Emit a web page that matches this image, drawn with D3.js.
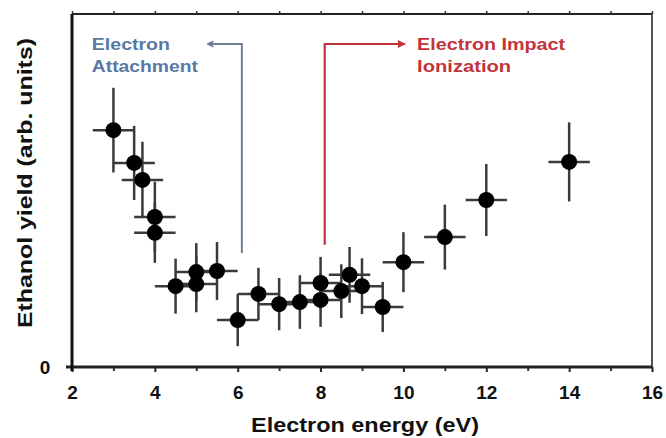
<!DOCTYPE html>
<html>
<head>
<meta charset="utf-8">
<script src="https://cdn.jsdelivr.net/npm/d3@7"></script>
<style>
  body { margin: 0; background: #fff; }
  svg { display: block; font-family: "Liberation Sans", Arial, sans-serif; font-weight: bold; }
</style>
</head>
<body>
<svg id="chart"></svg>
<script>
// electron energy (eV), yield (arb. units) and error bars
const energy = [3.0, 3.5, 3.7, 4.0, 4.0, 4.5, 5.0, 5.0, 5.5, 6.0, 6.5, 7.0, 7.5, 8.0, 8.0, 8.5, 8.7, 9.0, 9.5, 10, 11, 12, 14];
const yieldVal = [0.671, 0.578, 0.530, 0.425, 0.380, 0.229, 0.269, 0.235, 0.272, 0.133, 0.207, 0.178, 0.184, 0.238, 0.190, 0.215, 0.261, 0.229, 0.170, 0.297, 0.368, 0.473, 0.581];
const yErr = [0.12, 0.105, 0.108, 0.10, 0.085, 0.078, 0.082, 0.08, 0.082, 0.074, 0.074, 0.074, 0.076, 0.074, 0.076, 0.076, 0.079, 0.079, 0.071, 0.085, 0.092, 0.102, 0.112];
const xErr = [0.5, 0.5, 0.5, 0.5, 0.5, 0.5, 0.5, 0.5, 0.5, 0.5, 0.5, 0.5, 0.5, 0.5, 0.5, 0.5, 0.5, 0.5, 0.5, 0.5, 0.5, 0.5, 0.5];

const xTicks = [2, 4, 6, 8, 10, 12, 14, 16];
const xMinor = [3, 5, 7, 9, 11, 13, 15];

const width = 666, height = 438;
const margin = {top: 14, right: 14, bottom: 71, left: 72};
const innerW = width - margin.left - margin.right;
const innerH = height - margin.top - margin.bottom;

const svg = d3.select('#chart')
    .attr('width', width)
    .attr('height', height);

const chart = svg.append('g')
    .attr('transform', `translate(${margin.left}, ${margin.top})`);

const x = d3.scaleLinear().domain([2, 16]).range([0, innerW]);
const y = d3.scaleLinear().domain([0, 1]).range([innerH, 0]);

const points = energy.map((e, i) => ({x: e, y: yieldVal[i], ex: xErr[i], ey: yErr[i]}));

// frame: top and right
chart.append('line')
    .attr('x1', 0).attr('x2', innerW).attr('y1', 0).attr('y2', 0)
    .attr('stroke', '#222').attr('stroke-width', 2);
chart.append('line')
    .attr('x1', innerW).attr('x2', innerW).attr('y1', 0).attr('y2', innerH)
    .attr('stroke', '#555').attr('stroke-width', 2);

// top ticks
const topAxis = chart.append('g')
    .call(d3.axisTop(x).tickValues(d3.range(2, 17, 1)).tickSize(3).tickFormat(''));
topAxis.select('.domain').remove();
topAxis.selectAll('line').attr('stroke', '#333').attr('stroke-width', 1.5);

// annotations
const blue = '#5a78a6', blueLine = '#6f7f95', red = '#c4333b';

const defs = svg.append('defs');
defs.append('marker')
    .attr('id', 'arrBlue').attr('viewBox', '0 0 10 10')
    .attr('refX', 9).attr('refY', 5)
    .attr('markerWidth', 7).attr('markerHeight', 7)
    .attr('markerUnits', 'userSpaceOnUse')
    .attr('orient', 'auto')
    .append('path').attr('d', 'M1,1 L9,5 L1,9')
    .attr('fill', 'none').attr('stroke', blueLine).attr('stroke-width', 2.5);
defs.append('marker')
    .attr('id', 'arrRed').attr('viewBox', '0 0 10 10')
    .attr('refX', 9).attr('refY', 5)
    .attr('markerWidth', 9).attr('markerHeight', 8)
    .attr('markerUnits', 'userSpaceOnUse')
    .attr('orient', 'auto')
    .append('path').attr('d', 'M0,0 L10,5 L0,10 Z')
    .attr('fill', red);

chart.append('path')
    .attr('d', `M${x(6.1)},${y(0.323)} L${x(6.1)},${y(0.915)} L${x(5.28)},${y(0.915)}`)
    .attr('fill', 'none').attr('stroke', blueLine).attr('stroke-width', 2)
    .attr('marker-end', 'url(#arrBlue)');

chart.append('path')
    .attr('d', `M${x(8.1)},${y(0.346)} L${x(8.1)},${y(0.915)} L${x(10.04)},${y(0.915)}`)
    .attr('fill', 'none').attr('stroke', red).attr('stroke-width', 2.2)
    .attr('marker-end', 'url(#arrRed)');

const blueText = chart.append('text')
    .attr('fill', blue).attr('font-size', 17);
blueText.append('tspan').attr('x', x(2.48)).attr('y', 36)
    .attr('textLength', 78).attr('lengthAdjust', 'spacingAndGlyphs').text('Electron');
blueText.append('tspan').attr('x', x(2.48)).attr('y', 58)
    .attr('textLength', 106).attr('lengthAdjust', 'spacingAndGlyphs').text('Attachment');

const redText = chart.append('text')
    .attr('fill', red).attr('font-size', 17);
redText.append('tspan').attr('x', x(10.33)).attr('y', 36)
    .attr('textLength', 148).attr('lengthAdjust', 'spacingAndGlyphs').text('Electron Impact');
redText.append('tspan').attr('x', x(10.33)).attr('y', 58)
    .attr('textLength', 94).attr('lengthAdjust', 'spacingAndGlyphs').text('Ionization');

// error bars
const bars = chart.append('g')
    .attr('stroke', '#3a3a3a').attr('stroke-width', 2.5);
bars.selectAll('.ey').data(points).join('line')
    .attr('x1', d => x(d.x)).attr('x2', d => x(d.x))
    .attr('y1', d => y(d.y - d.ey)).attr('y2', d => y(d.y + d.ey));
bars.selectAll('.ex').data(points).join('line')
    .attr('x1', d => x(d.x - d.ex)).attr('x2', d => x(d.x + d.ex))
    .attr('y1', d => y(d.y)).attr('y2', d => y(d.y));

// markers
chart.append('g').selectAll('circle').data(points).join('circle')
    .attr('cx', d => x(d.x)).attr('cy', d => y(d.y))
    .attr('r', 8).attr('fill', '#000');

// bottom axis
const xAxis = chart.append('g')
    .attr('transform', `translate(0, ${innerH})`)
    .call(d3.axisBottom(x).tickValues(xTicks).tickSize(5).tickPadding(14).tickFormat(d3.format('d')));
xAxis.select('.domain').remove();
xAxis.selectAll('line').attr('stroke', '#222').attr('stroke-width', 2);
xAxis.selectAll('text')
    .attr('font-size', 19).attr('font-family', '"Liberation Sans", Arial, sans-serif')
    .attr('font-weight', 'bold').attr('fill', '#111');

const xMinorAxis = chart.append('g')
    .attr('transform', `translate(0, ${innerH})`)
    .call(d3.axisBottom(x).tickValues(xMinor).tickSize(4).tickFormat(''));
xMinorAxis.select('.domain').remove();
xMinorAxis.selectAll('line').attr('stroke', '#333').attr('stroke-width', 2);

chart.append('line')
    .attr('x1', -6).attr('x2', innerW).attr('y1', innerH).attr('y2', innerH)
    .attr('stroke', '#222').attr('stroke-width', 3);

// left axis
chart.append('line')
    .attr('x1', 0).attr('x2', 0).attr('y1', 0).attr('y2', innerH + 4)
    .attr('stroke', '#111').attr('stroke-width', 3);
chart.append('text')
    .attr('x', -27).attr('y', y(0)).attr('dy', '0.35em')
    .attr('text-anchor', 'middle').attr('font-size', 19).attr('fill', '#111')
    .text('0');

// axis titles
svg.append('text')
    .attr('x', 365).attr('y', 432)
    .attr('text-anchor', 'middle').attr('font-size', 21).attr('fill', '#111')
    .attr('textLength', 228).attr('lengthAdjust', 'spacingAndGlyphs')
    .text('Electron energy (eV)');

svg.append('text')
    .attr('transform', 'translate(32, 183) rotate(-90)')
    .attr('text-anchor', 'middle').attr('font-size', 20).attr('fill', '#111')
    .attr('textLength', 290).attr('lengthAdjust', 'spacingAndGlyphs')
    .text('Ethanol yield (arb. units)');
</script>
</body>
</html>
